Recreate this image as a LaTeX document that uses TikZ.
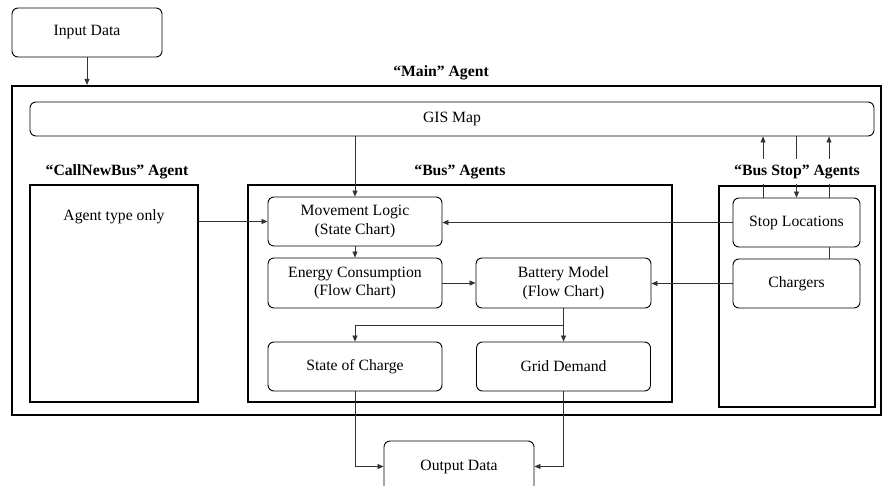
\documentclass[tikz,border=0pt]{standalone}
\usepackage{fontspec}
\setmainfont{Liberation Serif}
\usetikzlibrary{arrows.meta,calc}

\newcommand\basefont{\fontsize{15.7}{18.5}\selectfont}

\tikzset{
  block/.style={draw,rounded corners=6pt,line width=0.9pt,align=center,inner sep=0pt}, % rounded boxes
  agentbox/.style={draw,line width=2.2pt,inner sep=0pt}, % agent frames
  agentlabel/.style={font=\basefont\bfseries,fill=white,inner ysep=1pt,minimum height=25}, % titles above frames
  arr/.style={-{Triangle[length=6pt,width=5pt]},line width=0.7pt,black!80}, % connectors
  link/.style={line width=0.7pt,black!80}
}

\begin{document}
\begin{tikzpicture}[x=1pt,y=-1pt,font=\basefont]
\useasboundingbox (0,0) rectangle (882,486);

% outer agent
\node[agentbox,minimum width=869,minimum height=329] (main) at (446.5,250.5) {};
\node[font=\basefont\bfseries] (mainlabel) at (441,73) {“Main” Agent};

% input and gis map
\node[block,minimum width=150,minimum height=49] (input) at (87,32.5) {Input Data};
\node[block,minimum width=844,minimum height=34] (gis) at (452,119) {GIS Map};

% agent frames
\node[agentbox,minimum width=168,minimum height=217] (callbox) at (114,293.5) {};
\node (typeonly) at (114,217) {Agent type only};
\node[agentbox,minimum width=424,minimum height=217] (busbox) at (460,293.5) {};
\node[agentbox,minimum width=156,minimum height=221] (stopbox) at (797,296.5) {};

% bus agent blocks
\node[block,minimum width=174,minimum height=49] (move) at (355,221.5) {Movement Logic\\(State Chart)};
\node[block,minimum width=174,minimum height=50] (energy) at (355,283) {Energy Consumption\\(Flow Chart)};
\node[block,minimum width=175,minimum height=50] (battery) at (563.5,283) {Battery Model\\(Flow Chart)};
\node[block,minimum width=174,minimum height=49] (soc) at (355,366.5) {State of Charge};
\node[block,minimum width=174,minimum height=49] (grid) at (563.5,366.5) {Grid Demand};

% bus stop blocks
\node[block,minimum width=127,minimum height=49] (stoploc) at (796.5,222.5) {Stop Locations};
\node[block,minimum width=127,minimum height=49] (chargers) at (796.5,283.5) {Chargers};

% output
\node[block,minimum width=150,minimum height=51] (output) at (459,466.5) {Output Data};

% connectors
\draw[arr] (input.south) -- (input.south |- main.north);
\draw[arr] (gis.south -| move.north) -- (move.north);
\draw[arr] (callbox.east |- move.west) -- (move.west);
\draw[arr] (stoploc.west) -- (stoploc.west -| move.east);
\draw[arr] (move.south) -- (energy.north);
\draw[arr] (energy.east) -- (battery.west);
\draw[arr] (chargers.west) -- (chargers.west -| battery.east);
\coordinate (split) at ($(battery.south)!0.5!(grid.north)$);
\draw[arr] (battery.south) -- (grid.north);
\draw[arr] (split) -| (soc.north);
\draw[arr] (soc.south) |- (output.west);
\draw[arr] (grid.south) |- (output.east);
\draw[arr] ([xshift=-33.5]stoploc.north) -- ([xshift=-33.5]stoploc.north |- gis.south);
\draw[arr] ([xshift=32.5]stoploc.north) -- ([xshift=32.5]stoploc.north |- gis.south);
\draw[arr] (gis.south -| stoploc.north) -- (stoploc.north);
\draw[link] ([xshift=32.5]stoploc.south) -- ([xshift=32.5]chargers.north);

% agent titles
\node[agentlabel] (calllabel) at (117,172) {“CallNewBus” Agent};
\node[agentlabel] (buslabel) at (460,172) {“Bus” Agents};
\node[agentlabel] (stoplabel) at (797,172) {“Bus Stop” Agents};
\end{tikzpicture}
\end{document}
